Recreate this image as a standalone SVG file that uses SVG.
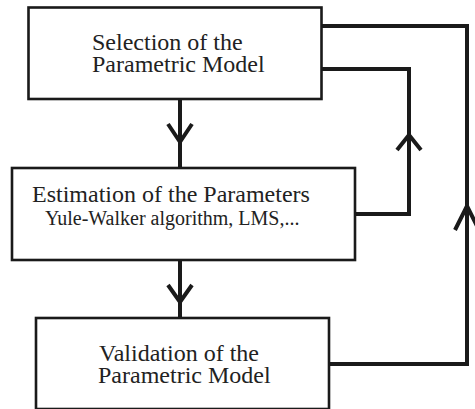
<svg xmlns="http://www.w3.org/2000/svg" width="475" height="409" viewBox="0 0 475 409">
<style>
.box{fill:#fff;stroke:#1a1a1a;stroke-width:2.6}
.t{font-family:"Liberation Serif","Times New Roman",serif;fill:#222;font-size:24px}
.s{font-size:20px}
.c{fill:none;stroke:#1a1a1a;stroke-width:4}
.ah{fill:none;stroke:#1a1a1a;stroke-width:4;stroke-linejoin:miter}
</style>
<rect width="475" height="409" fill="#fff"/>
<g id="connectors">
<line class="c" x1="180" y1="99" x2="180" y2="168"/>
<polyline class="ah" points="168,124 180,142 192,124"/>
<line class="c" x1="180" y1="260" x2="180" y2="318"/>
<polyline class="ah" points="168,285 180,302 192,285"/>
<polyline class="c" points="322,69 409,69 409,214 355,214"/>
<polyline class="ah" points="397,150 409,135 421,150"/>
<polyline class="c" points="322,26 467,26 467,364 329,364"/>
<polyline class="ah" points="455,230 467,206 479,230"/>
</g>
<g id="node-selection">
<rect class="box" x="28.5" y="7.5" width="293" height="91.5"/>
<text class="t" x="92" y="50">Selection of the</text>
<text class="t" x="92" y="72">Parametric Model</text>
</g>
<g id="node-estimation">
<rect class="box" x="12" y="168" width="343" height="92"/>
<text class="t" x="32" y="202">Estimation of the Parameters</text>
<text class="t s" x="45" y="225">Yule-Walker algorithm, LMS,...</text>
</g>
<g id="node-validation">
<rect class="box" x="36" y="318" width="293" height="91"/>
<text class="t" x="99" y="361">Validation of the</text>
<text class="t" x="98" y="383">Parametric Model</text>
</g>
</svg>
